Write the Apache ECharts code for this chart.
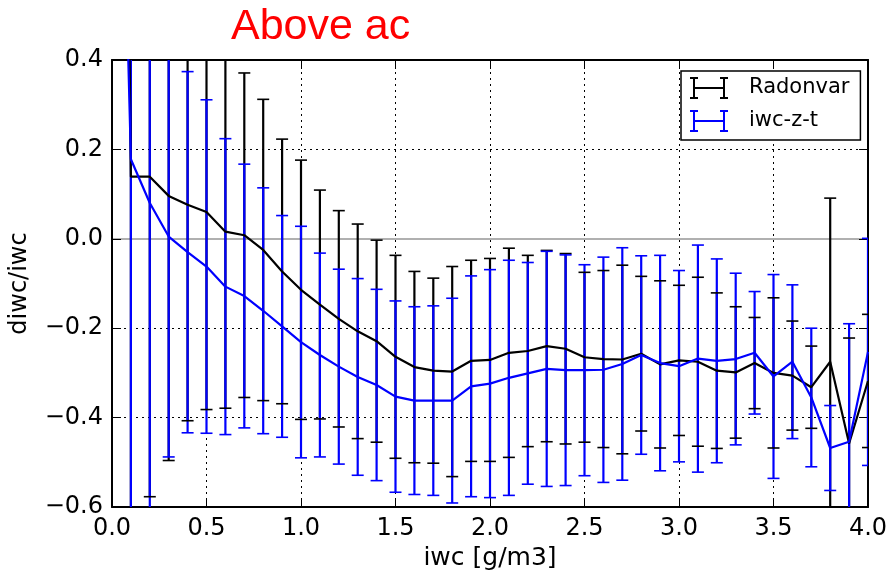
<!DOCTYPE html>
<html>
<head>
<meta charset="utf-8">
<title>Above ac</title>
<script src="https://cdn.jsdelivr.net/npm/echarts@6/dist/echarts.min.js"></script>
<style>
  html, body { margin: 0; padding: 0; background: #fff; }
  #chart { width: 891px; height: 577px; }
</style>
</head>
<body>
<div id="chart"></div>
<script>
// iwc bin centres [g/m3]
const iwcBins = [0.0, 0.1, 0.2, 0.3, 0.4, 0.5, 0.6, 0.7, 0.8, 0.9,
                 1.0, 1.1, 1.2, 1.3, 1.4, 1.5, 1.6, 1.7, 1.8, 1.9,
                 2.0, 2.1, 2.2, 2.3, 2.4, 2.5, 2.6, 2.7, 2.8, 2.9,
                 3.0, 3.1, 3.2, 3.3, 3.4, 3.5, 3.6, 3.7, 3.8, 3.9, 4.0];

// Radonvar: mean relative error and its standard deviation per bin
const radonMean = [4.0, 0.139, 0.139, 0.096, 0.076, 0.060, 0.016, 0.008, -0.025, -0.073,
                   -0.114, -0.147, -0.179, -0.207, -0.229, -0.264, -0.287, -0.295, -0.297, -0.273,
                   -0.271, -0.255, -0.251, -0.240, -0.246, -0.265, -0.269, -0.270, -0.257, -0.281,
                   -0.272, -0.275, -0.295, -0.299, -0.278, -0.300, -0.306, -0.332, -0.275, -0.458, -0.318];
const radonStd  = [null, 0.80, 0.716, 0.592, 0.483, 0.442, 0.395, 0.363, 0.337, 0.296,
                   0.290, 0.256, 0.242, 0.240, 0.226, 0.227, 0.214, 0.207, 0.235, 0.225,
                   0.227, 0.234, 0.214, 0.214, 0.213, 0.190, 0.198, 0.211, 0.173, 0.187,
                   0.168, 0.189, 0.174, 0.147, 0.102, 0.168, 0.122, 0.092, 0.366, 0.236, 0.149];

// iwc-z-t: mean relative error and its standard deviation per bin
const iwcztMean = [1.8, 0.178, 0.080, 0.005, -0.030, -0.062, -0.107, -0.128, -0.161, -0.196,
                   -0.231, -0.260, -0.286, -0.309, -0.327, -0.353, -0.362, -0.362, -0.362, -0.330,
                   -0.324, -0.311, -0.301, -0.291, -0.294, -0.294, -0.293, -0.280, -0.260, -0.278,
                   -0.285, -0.268, -0.273, -0.269, -0.255, -0.308, -0.275, -0.355, -0.468, -0.454, -0.253];
const iwcztStd  = [null, 0.90, 0.72, 0.493, 0.404, 0.373, 0.331, 0.295, 0.275, 0.248,
                   0.259, 0.228, 0.218, 0.220, 0.214, 0.214, 0.210, 0.212, 0.229, 0.247,
                   0.255, 0.263, 0.248, 0.263, 0.258, 0.236, 0.252, 0.260, 0.222, 0.241,
                   0.214, 0.254, 0.228, 0.192, 0.137, 0.228, 0.172, 0.155, 0.095, 0.264, 0.254];

const FONT = 'DejaVu Sans';
const BLACK = '#000000';
const BLUE = '#0000ff';
const CAP_HALF = 6;

function lineData(mean) {
  return iwcBins.map((x, i) => [x, mean[i]]);
}
function errData(mean, std) {
  const out = [];
  iwcBins.forEach((x, i) => { if (std[i] != null) out.push([x, mean[i], std[i]]); });
  return out;
}

// vertical whisker from mean-std to mean+std
function whisker(color) {
  return function (params, api) {
    const x = api.value(0), m = api.value(1), s = api.value(2);
    const hi = api.coord([x, m + s]);
    const lo = api.coord([x, m - s]);
    return {
      type: 'line',
      shape: { x1: hi[0], y1: hi[1], x2: lo[0], y2: lo[1] },
      style: { stroke: color, lineWidth: 2.2 }
    };
  };
}
// horizontal caps at both whisker ends
function caps(color) {
  return function (params, api) {
    const x = api.value(0), m = api.value(1), s = api.value(2);
    const hi = api.coord([x, m + s]);
    const lo = api.coord([x, m - s]);
    const st = { stroke: color, lineWidth: 1.6 };
    return {
      type: 'group',
      children: [
        { type: 'line', shape: { x1: hi[0] - CAP_HALF, y1: hi[1], x2: hi[0] + CAP_HALF, y2: hi[1] }, style: st },
        { type: 'line', shape: { x1: lo[0] - CAP_HALF, y1: lo[1], x2: lo[0] + CAP_HALF, y2: lo[1] }, style: st }
      ]
    };
  };
}

// errorbar glyph for the legend: two I-beams joined by a bar
const ebIcon = 'path://M0 0H8V2H5V10H33V2H30V0H38V2H35V20H38V22H30V20H33V12H5V20H8V22H0V20H3V2H0Z';

const tickFmt = v => v.toFixed(1).replace('-', '\u2212');

const chart = echarts.init(document.getElementById('chart'), null, { renderer: 'canvas' });

chart.setOption({
  animation: false,
  backgroundColor: '#ffffff',
  title: {
    text: 'Above ac',
    left: 231,
    top: 6,
    padding: 0,
    textStyle: { color: '#ff0000', fontSize: 43, fontWeight: 'normal', fontFamily: 'Liberation Sans' }
  },
  legend: {
    orient: 'vertical',
    left: 681,
    top: 71,
    padding: [6, 11, 8, 9],
    itemGap: 11,
    itemWidth: 38,
    itemHeight: 22,
    backgroundColor: '#ffffff',
    borderColor: BLACK,
    borderWidth: 1.5,
    borderRadius: 0,
    data: [
      { name: 'Radonvar', icon: ebIcon },
      { name: 'iwc-z-t', icon: ebIcon }
    ],
    textStyle: { color: BLACK, fontSize: 21, fontFamily: FONT, padding: [0, 0, 0, 16] }
  },
  grid: { left: 110, right: 23, top: 60, bottom: 70 },
  xAxis: [
    {
      type: 'value', min: 0, max: 4, interval: 0.5, position: 'bottom',
      name: 'iwc [g/m3]', nameLocation: 'middle', nameGap: 37,
      nameTextStyle: { color: BLACK, fontSize: 25, fontFamily: FONT },
      axisLine: { show: true, onZero: false, lineStyle: { color: BLACK, width: 2 } },
      axisTick: { show: true, inside: true, length: 9, lineStyle: { color: BLACK, width: 1 } },
      axisLabel: { color: BLACK, fontSize: 24, fontFamily: FONT, margin: 10, formatter: tickFmt },
      splitLine: { show: true, lineStyle: { color: BLACK, width: 1, type: [2, 4] } }
    },
    {
      type: 'value', min: 0, max: 4, interval: 0.5, position: 'top',
      axisLine: { show: true, onZero: false, lineStyle: { color: BLACK, width: 2 } },
      axisTick: { show: true, inside: true, length: 9, lineStyle: { color: BLACK, width: 1 } },
      axisLabel: { show: false },
      splitLine: { show: false }
    }
  ],
  yAxis: [
    {
      type: 'value', min: -0.6, max: 0.4, interval: 0.2, position: 'left',
      name: 'diwc/iwc', nameLocation: 'middle', nameGap: 80,
      nameTextStyle: { color: BLACK, fontSize: 24, fontFamily: FONT },
      axisLine: { show: true, onZero: false, lineStyle: { color: BLACK, width: 2 } },
      axisTick: { show: true, inside: true, length: 9, lineStyle: { color: BLACK, width: 1 } },
      axisLabel: { color: BLACK, fontSize: 24, fontFamily: FONT, margin: 9, formatter: tickFmt },
      splitLine: { show: true, lineStyle: { color: BLACK, width: 1, type: [2, 4] } }
    },
    {
      type: 'value', min: -0.6, max: 0.4, interval: 0.2, position: 'right',
      axisLine: { show: true, onZero: false, lineStyle: { color: BLACK, width: 2 } },
      axisTick: { show: true, inside: true, length: 9, lineStyle: { color: BLACK, width: 1 } },
      axisLabel: { show: false },
      splitLine: { show: false }
    }
  ],
  series: [
    {
      name: 'Radonvar', type: 'line', z: 3,
      data: lineData(radonMean),
      showSymbol: false, symbol: 'none', clip: true,
      color: BLACK,
      lineStyle: { color: BLACK, width: 2.2 },
      markLine: {
        silent: true, z: 0, symbol: 'none', label: { show: false },
        lineStyle: { color: '#b0b0b0', width: 2, type: 'solid' },
        data: [{ yAxis: 0 }]
      }
    },
    {
      name: 'iwc-z-t', type: 'line', z: 5,
      data: lineData(iwcztMean),
      showSymbol: false, symbol: 'none', clip: true,
      color: BLUE,
      lineStyle: { color: BLUE, width: 2.2 }
    },
    {
      name: 'Radonvar', type: 'custom', z: 1, clip: true,
      itemStyle: { color: BLACK },
      encode: { x: 0, y: 1 },
      data: errData(radonMean, radonStd),
      renderItem: whisker(BLACK)
    },
    {
      name: 'iwc-z-t', type: 'custom', z: 2, clip: true,
      itemStyle: { color: BLUE },
      encode: { x: 0, y: 1 },
      data: errData(iwcztMean, iwcztStd),
      renderItem: whisker(BLUE)
    },
    {
      name: 'Radonvar', type: 'custom', z: 4, clip: true,
      itemStyle: { color: BLACK },
      encode: { x: 0, y: 1 },
      data: errData(radonMean, radonStd),
      renderItem: caps(BLACK)
    },
    {
      name: 'iwc-z-t', type: 'custom', z: 6, clip: true,
      itemStyle: { color: BLUE },
      encode: { x: 0, y: 1 },
      data: errData(iwcztMean, iwcztStd),
      renderItem: caps(BLUE)
    }
  ]
});
</script>
</body>
</html>
